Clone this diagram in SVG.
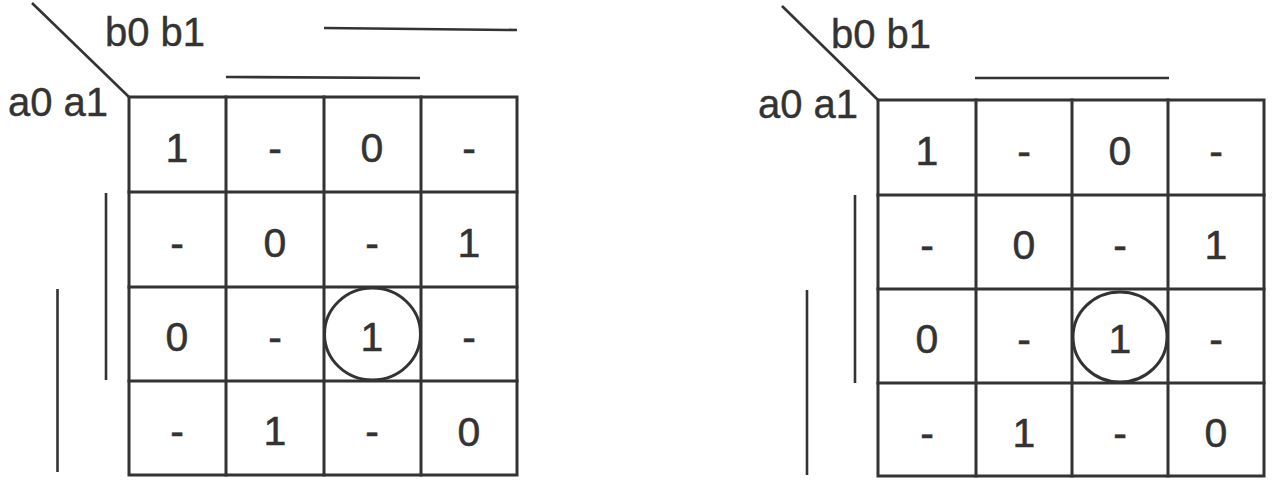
<svg xmlns="http://www.w3.org/2000/svg" width="1274" height="481" viewBox="0 0 1274 481">
<style>
.bg{fill:#ffffff}
.ln{stroke:#333;stroke-width:3;fill:none;stroke-linecap:square}
.bar{stroke:#333;stroke-width:2.6;fill:none}
.t{font-family:"Liberation Sans",Arial,sans-serif;font-size:41px;fill:#333;stroke:#333;stroke-width:0.5;text-anchor:middle}
.lbl{font-family:"Liberation Sans",Arial,sans-serif;font-size:40px;fill:#333;stroke:#333;stroke-width:0.4}
</style>
<rect class="bg" x="0" y="0" width="1274" height="481"/>

<g id="kmap-left">
  <g id="left-grid">
    <rect class="ln" x="129" y="97" width="388" height="378"/>
    <line class="ln" x1="226" y1="97" x2="226" y2="475"/>
    <line class="ln" x1="324" y1="97" x2="324" y2="475"/>
    <line class="ln" x1="421" y1="97" x2="421" y2="475"/>
    <line class="ln" x1="129" y1="192" x2="517" y2="192"/>
    <line class="ln" x1="129" y1="287" x2="517" y2="287"/>
    <line class="ln" x1="129" y1="381" x2="517" y2="381"/>
    <line class="bar" x1="32" y1="3" x2="129" y2="97"/>
  </g>
  <g id="left-labels">
    <text class="lbl" x="105" y="46">b0 b1</text>
    <text class="lbl" x="8" y="116">a0 a1</text>
  </g>
  <g id="left-bars">
    <line class="bar" x1="324" y1="28" x2="517" y2="30"/>
    <line class="bar" x1="226" y1="77" x2="420" y2="78"/>
    <line class="bar" x1="106" y1="193" x2="106" y2="380"/>
    <line class="bar" x1="57.5" y1="289" x2="57.5" y2="472"/>
  </g>
  <g id="left-cells">
    <text class="t" x="177" y="162">1</text>
    <text class="t" x="275" y="162">-</text>
    <text class="t" x="372" y="162">0</text>
    <text class="t" x="469" y="162">-</text>
    <text class="t" x="177" y="257">-</text>
    <text class="t" x="275" y="257">0</text>
    <text class="t" x="372" y="257">-</text>
    <text class="t" x="469" y="257">1</text>
    <text class="t" x="177" y="351">0</text>
    <text class="t" x="275" y="351">-</text>
    <ellipse class="ln" cx="372.5" cy="334" rx="48" ry="46"/>
    <text class="t" x="372" y="351">1</text>
    <text class="t" x="469" y="351">-</text>
    <text class="t" x="177" y="445">-</text>
    <text class="t" x="275" y="445">1</text>
    <text class="t" x="372" y="445">-</text>
    <text class="t" x="469" y="446">0</text>
  </g>
</g>

<g id="kmap-right">
  <g id="right-grid">
    <rect class="ln" x="878" y="100" width="386" height="376"/>
    <line class="ln" x1="976" y1="100" x2="976" y2="476"/>
    <line class="ln" x1="1072" y1="100" x2="1072" y2="476"/>
    <line class="ln" x1="1168" y1="100" x2="1168" y2="476"/>
    <line class="ln" x1="878" y1="195" x2="1264" y2="195"/>
    <line class="ln" x1="878" y1="289" x2="1264" y2="289"/>
    <line class="ln" x1="878" y1="383" x2="1264" y2="383"/>
    <line class="bar" x1="782" y1="6" x2="878" y2="100"/>
  </g>
  <g id="right-labels">
    <text class="lbl" x="831" y="48">b0 b1</text>
    <text class="lbl" x="758" y="118">a0 a1</text>
  </g>
  <g id="right-bars">
    <line class="bar" x1="975" y1="78" x2="1169" y2="78"/>
    <line class="bar" x1="855" y1="195" x2="855" y2="383"/>
    <line class="bar" x1="807" y1="290" x2="807" y2="475"/>
  </g>
  <g id="right-cells">
    <text class="t" x="927" y="165">1</text>
    <text class="t" x="1024" y="165">-</text>
    <text class="t" x="1120" y="165">0</text>
    <text class="t" x="1216" y="165">-</text>
    <text class="t" x="927" y="259">-</text>
    <text class="t" x="1024" y="259">0</text>
    <text class="t" x="1120" y="259">-</text>
    <text class="t" x="1216" y="259">1</text>
    <text class="t" x="927" y="353">0</text>
    <text class="t" x="1024" y="353">-</text>
    <ellipse class="ln" cx="1120" cy="337" rx="47" ry="45"/>
    <text class="t" x="1120" y="353">1</text>
    <text class="t" x="1216" y="353">-</text>
    <text class="t" x="927" y="447">-</text>
    <text class="t" x="1024" y="447">1</text>
    <text class="t" x="1120" y="447">-</text>
    <text class="t" x="1216" y="447">0</text>
  </g>
</g>
</svg>
